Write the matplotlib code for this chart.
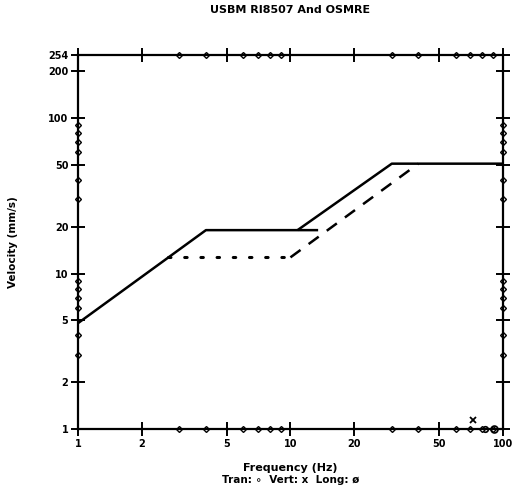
import matplotlib
matplotlib.use("Agg")
import matplotlib.pyplot as plt
import matplotlib.transforms as mtransforms

# frequency (Hz) / velocity (mm/s) break points
osmre_f = [1, 4, 13.5]
osmre_v = [4.8, 19, 19]
osmre2_f = [10.8, 30, 100]
osmre2_v = [19, 50.8, 50.8]
usbm_dot_f = [2.65, 10]
usbm_dot_v = [12.7, 12.7]
usbm_dash_f = [10, 40]
usbm_dash_v = [12.7, 50.8]

# measured peaks (Tran / Vert / Long)
tran_f, tran_v = [82], [1.0]
vert_f, vert_v = [72], [1.15]
long_f, long_v = [91], [1.0]

xticks = [1, 2, 5, 10, 20, 50, 100]
xlabels = ["1", "2", "5", "10", "20", "50", "100"]
yticks = [1, 2, 5, 10, 20, 50, 100, 200, 254]
ylabels = ["1", "2", "5", "10", "20", "50", "100", "200", "254"]
minor_x = [3, 4, 6, 7, 8, 9, 30, 40, 60, 70, 80, 90]
minor_y = [3, 4, 6, 7, 8, 9, 30, 40, 60, 70, 80, 90]

fig = plt.figure(figsize=(5.31, 4.99), dpi=100)
ax = fig.add_axes([0.147, 0.140, 0.800, 0.750])
ax.set_xscale("log")
ax.set_yscale("log")
ax.set_xlim(1, 100)
ax.set_ylim(1, 254)

ax.plot(osmre_f, osmre_v, color="black", lw=1.8, solid_capstyle="butt")
ax.plot(osmre2_f, osmre2_v, color="black", lw=1.8, solid_capstyle="butt")
ax.plot(usbm_dot_f, usbm_dot_v, color="black", lw=2.2, linestyle=(0, (0.8, 4.5)),
        dash_capstyle="round")
ax.plot(usbm_dash_f, usbm_dash_v, color="black", lw=1.8, linestyle=(0, (5, 4)))

ax.plot(tran_f, tran_v, "o", ms=4, mfc="white", mec="black", mew=1.2, clip_on=False)
ax.plot(vert_f, vert_v, "x", ms=5, color="black", mew=1.3, clip_on=False)
ax.plot(long_f, long_v, "o", ms=5, mfc="white", mec="black", mew=1.2, clip_on=False)

for s in ax.spines.values():
    s.set_linewidth(1.6)

ax.set_xticks(xticks)
ax.set_xticklabels(xlabels)
ax.set_yticks(yticks)
ax.set_yticklabels(ylabels)
ax.minorticks_off()
ax.tick_params(which="major", direction="inout", length=10, width=1.4,
               top=True, right=True, labelsize=7, pad=2)
for lab in ax.get_xticklabels() + ax.get_yticklabels():
    lab.set_fontweight("bold")

# small open diamonds on every spine for the minor decades
bx = mtransforms.blended_transform_factory(ax.transData, ax.transAxes)
by = mtransforms.blended_transform_factory(ax.transAxes, ax.transData)
for pos in (0, 1):
    ax.plot(minor_x, [pos] * len(minor_x), "D", ms=3, mfc="white", mec="black",
            mew=1.0, transform=bx, clip_on=False)
    ax.plot([pos] * len(minor_y), minor_y, "D", ms=3, mfc="white", mec="black",
            mew=1.0, transform=by, clip_on=False)

ax.set_title("USBM RI8507 And OSMRE", fontsize=8, fontweight="bold", pad=30)
ax.set_ylabel("Velocity (mm/s)", fontsize=7.5, fontweight="bold", labelpad=22)
ax.set_xlabel("Frequency (Hz)", fontsize=8, fontweight="bold", labelpad=10)
fig.text(0.547, 0.032, "Tran: \u2218  Vert: x  Long: \u00f8", ha="center",
         fontsize=7.5, fontweight="bold")

fig.savefig("out.png", dpi=100)
